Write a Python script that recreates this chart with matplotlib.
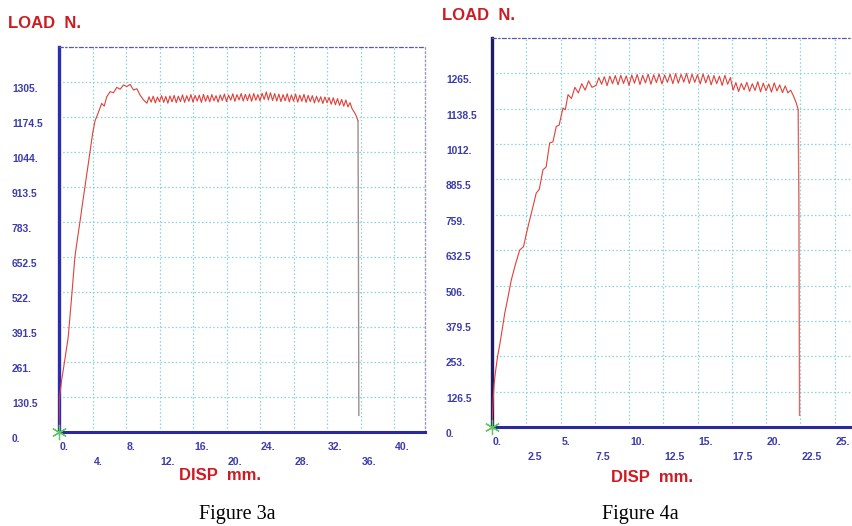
import matplotlib.pyplot as plt

# ---- Figure 3a : load vs displacement ----
left_rise_disp = [0.0, 0.05, 0.3, 0.7, 1.1, 1.5, 1.9, 2.2, 2.5, 2.8, 3.1, 3.4, 3.7, 4.0,
                  4.3, 4.5, 4.8, 5.1, 5.4, 5.7, 6.1, 6.5, 6.9, 7.3, 7.7, 8.1, 8.5, 8.9,
                  9.3, 9.7, 10.1]
left_rise_load = [0, 125, 190, 270, 354, 500, 653, 720, 783, 850, 914, 980, 1044, 1110,
                  1160, 1175, 1200, 1225, 1215, 1250, 1269, 1265, 1285, 1278, 1294, 1288,
                  1296, 1275, 1280, 1255, 1238]
left_plateau_disp = [10.5, 10.75, 11.0, 11.25, 11.5, 11.75, 12.0, 12.25,
                     12.5, 12.75, 13.0, 13.25, 13.5, 13.75, 14.0, 14.25,
                     14.5, 14.75, 15.0, 15.25, 15.5, 15.75, 16.0, 16.25,
                     16.5, 16.75, 17.0, 17.25, 17.5, 17.75, 18.0, 18.25,
                     18.5, 18.75, 19.0, 19.25, 19.5, 19.75, 20.0, 20.25,
                     20.5, 20.75, 21.0, 21.25, 21.5, 21.75, 22.0, 22.25,
                     22.5, 22.75, 23.0, 23.25, 23.5, 23.75, 24.0, 24.25,
                     24.5, 24.75, 25.0, 25.25, 25.5, 25.75, 26.0, 26.25,
                     26.5, 26.75, 27.0, 27.25, 27.5, 27.75, 28.0, 28.25,
                     28.5, 28.75, 29.0, 29.25, 29.5, 29.75, 30.0, 30.25,
                     30.5, 30.75, 31.0, 31.25, 31.5, 31.75, 32.0, 32.25,
                     32.5, 32.75, 33.0, 33.25, 33.5, 33.75, 34.0, 34.25,
                     34.5, 34.75]
left_plateau_load = [1226, 1250, 1230, 1252, 1227, 1249, 1232, 1254,
                     1229, 1251, 1226, 1253, 1231, 1255, 1228, 1252,
                     1232, 1257, 1229, 1254, 1233, 1258, 1230, 1255,
                     1234, 1256, 1229, 1259, 1233, 1255, 1231, 1258,
                     1235, 1254, 1230, 1257, 1236, 1260, 1232, 1256,
                     1237, 1261, 1233, 1258, 1238, 1262, 1234, 1259,
                     1236, 1260, 1233, 1262, 1237, 1258, 1235, 1263,
                     1240, 1268, 1238, 1265, 1236, 1262, 1234, 1260,
                     1232, 1258, 1235, 1261, 1231, 1257, 1234, 1260,
                     1230, 1256, 1233, 1259, 1229, 1255, 1232, 1254,
                     1227, 1252, 1230, 1250, 1225, 1249, 1228, 1247,
                     1222, 1246, 1220, 1243, 1218, 1240, 1215, 1238,
                     1212, 1228]
left_end_disp = [35.0, 35.3, 35.5, 35.7]
left_end_load = [1205, 1190, 1178, 1160]
left_drop_disp = [35.7, 35.75, 35.8]
left_drop_load = [1160, 700, 62]

# ---- Figure 4a ----
right_rise_disp = [0.0, 0.07, 0.15, 0.24, 0.4, 0.56, 0.75, 0.93, 1.15, 1.41, 1.7, 2.02,
                   2.3, 2.5, 2.75, 3.0, 3.23, 3.45, 3.72, 3.95, 4.21, 4.45, 4.69, 4.9,
                   5.18, 5.35, 5.55, 5.8, 6.05, 6.3, 6.55, 6.8, 7.05, 7.3]
right_rise_load = [0, 85, 150, 192, 250, 293, 350, 407, 460, 526, 580, 633,
                   645, 690, 741, 790, 837, 850, 920, 930, 1016, 1020, 1075, 1080,
                   1141, 1135, 1189, 1175, 1215, 1195, 1228, 1205, 1238, 1215]
right_plateau_disp = [7.6, 7.8, 8.0, 8.2, 8.4, 8.6, 8.8, 9.0, 9.2, 9.4,
                      9.6, 9.8, 10.0, 10.2, 10.4, 10.6, 10.8, 11.0, 11.2, 11.4,
                      11.6, 11.8, 12.0, 12.2, 12.4, 12.6, 12.8, 13.0, 13.2, 13.4,
                      13.6, 13.8, 14.0, 14.2, 14.4, 14.6, 14.8, 15.0, 15.2, 15.4,
                      15.6, 15.8, 16.0, 16.2, 16.4, 16.6, 16.8, 17.0, 17.2, 17.4,
                      17.6, 17.8, 18.0, 18.2, 18.4, 18.6, 18.8, 19.0, 19.2, 19.4,
                      19.6, 19.8, 20.0, 20.2, 20.4, 20.6, 20.8, 21.0, 21.2, 21.4,
                      21.6, 21.8, 22.0]
right_plateau_load = [1222, 1250, 1226, 1253, 1221, 1255, 1228, 1257, 1224, 1258,
                      1229, 1256, 1222, 1259, 1230, 1261, 1225, 1258, 1231, 1262,
                      1226, 1260, 1232, 1263, 1227, 1259, 1233, 1262, 1228, 1264,
                      1230, 1261, 1234, 1265, 1229, 1262, 1233, 1260, 1227, 1263,
                      1231, 1259, 1224, 1257, 1228, 1255, 1222, 1258, 1226, 1250,
                      1205, 1232, 1200, 1229, 1206, 1233, 1201, 1228, 1204, 1235,
                      1199, 1230, 1203, 1227, 1198, 1231, 1202, 1224, 1196, 1220,
                      1195, 1205, 1185]
right_end_disp = [22.2, 22.35]
right_end_load = [1160, 1135]
right_drop_disp = [22.35, 22.4, 22.45]
right_drop_load = [1135, 800, 42]

# ticks
left_xticks = [0, 4, 8, 12, 16, 20, 24, 28, 32, 36, 40]
left_xlabels = ['0.', '4.', '8.', '12.', '16.', '20.', '24.', '28.', '32.', '36.', '40.']
left_yticks = [0, 130.5, 261, 391.5, 522, 652.5, 783, 913.5, 1044, 1174.5, 1305]
left_ylabels = ['0.', '130.5', '261.', '391.5', '522.', '652.5', '783.', '913.5',
                '1044.', '1174.5', '1305.']
right_xticks = [0, 2.5, 5, 7.5, 10, 12.5, 15, 17.5, 20, 22.5, 25]
right_xlabels = ['0.', '2.5', '5.', '7.5', '10.', '12.5', '15.', '17.5', '20.', '22.5', '25.']
right_yticks = [0, 126.5, 253, 379.5, 506, 632.5, 759, 885.5, 1012, 1138.5, 1265]
right_ylabels = ['0.', '126.5', '253.', '379.5', '506.', '632.5', '759.', '885.5',
                 '1012.', '1138.5', '1265.']

W, H = 853, 526
plt.rcParams['font.family'] = ['Liberation Sans', 'DejaVu Sans']
fig = plt.figure(figsize=(W / 100, H / 100), dpi=100)

tick_color = '#3c3caa'
red = '#cc1b22'


def setup(ax, xticks, xlabels, yticks, ylabels, xlim, ylim, left_col, ylab_dx):
    ax.set_xlim(*xlim)
    ax.set_ylim(*ylim)
    ax.set_xticks(xticks)
    ax.set_yticks(yticks)
    ax.tick_params(length=0, labelbottom=False, labelleft=False)
    ax.grid(color='#86d4d4', ls=(0, (1.2, 1.8)), lw=0.9)
    ax.set_axisbelow(True)
    ax.spines['left'].set_color(left_col)
    ax.spines['left'].set_linewidth(2.4)
    ax.spines['bottom'].set_color('#2a2a9e')
    ax.spines['bottom'].set_linewidth(2.2)
    ax.spines['top'].set_color('#5a5aa8')
    ax.spines['top'].set_linestyle((0, (3, 2, 1, 2)))
    ax.spines['top'].set_linewidth(0.9)
    ax.spines['right'].set_color('#9a9ab8')
    ax.spines['right'].set_linestyle((0, (1, 2)))
    ax.spines['right'].set_linewidth(1.0)
    for i, (v, lab) in enumerate(zip(xticks, xlabels)):
        dy = -15 if i % 2 == 0 else -30
        ax.annotate(lab, xy=(v, 0), xycoords=('data', 'axes fraction'),
                    xytext=(1, dy), textcoords='offset pixels', ha='left',
                    va='center', fontsize=7.6, fontweight='bold',
                    color=tick_color, annotation_clip=False)
    for v, lab in zip(yticks, ylabels):
        ax.annotate(lab, xy=(0, v), xycoords=('axes fraction', 'data'),
                    xytext=(ylab_dx, -7), textcoords='offset pixels', ha='left',
                    va='center', fontsize=7.4, fontweight='bold',
                    color=tick_color, annotation_clip=False)
    ax.plot(0, 0, marker=(6, 2, 0), ms=11, mew=0.9, color='#5fc95f',
            clip_on=False, zorder=5)


# left panel
ax1 = fig.add_axes([59 / W, 1 - 432 / H, (425 - 59) / W, (432 - 47) / H])
setup(ax1, left_xticks, left_xlabels, left_yticks, left_ylabels,
      (0, 43.7), (0, 1435.5), '#2b2bb4', -47)
ax1.plot(left_rise_disp + left_plateau_disp + left_end_disp,
         left_rise_load + left_plateau_load + left_end_load,
         color='#e0403a', lw=0.8, zorder=3)
ax1.plot(left_drop_disp, left_drop_load, color='#a08c8c', lw=1.0, zorder=3)

# right panel
ax2 = fig.add_axes([492 / W, 1 - 427 / H, (W - 492) / W, (427 - 38) / H])
setup(ax2, right_xticks, right_xlabels, right_yticks, right_ylabels,
      (0, 26.35), (0, 1391.5), '#1e1e66', -46)
ax2.spines['right'].set_visible(False)
ax2.plot(right_rise_disp + right_plateau_disp + right_end_disp,
         right_rise_load + right_plateau_load + right_end_load,
         color='#e0403a', lw=0.8, zorder=3)
ax2.plot(right_drop_disp, right_drop_load, color='#d86a6a', lw=1.0, zorder=3)

# labels
fig.text(8 / W, 1 - 23.5 / H, 'LOAD  N.', ha='left', va='center', fontsize=12,
         fontweight='bold', color=red)
fig.text(442 / W, 1 - 15 / H, 'LOAD  N.', ha='left', va='center', fontsize=12,
         fontweight='bold', color=red)
fig.text(220 / W, 1 - 475.5 / H, 'DISP  mm.', ha='center', va='center',
         fontsize=12, fontweight='bold', color=red)
fig.text(652 / W, 1 - 477 / H, 'DISP  mm.', ha='center', va='center',
         fontsize=12, fontweight='bold', color=red)
fig.text(237 / W, 1 - 515 / H, 'Figure 3a', ha='center', va='center',
         fontsize=14.5, family='Liberation Serif', color='black')
fig.text(640 / W, 1 - 515 / H, 'Figure 4a', ha='center', va='center',
         fontsize=14.5, family='Liberation Serif', color='black')

fig.savefig('out.png', dpi=100)
